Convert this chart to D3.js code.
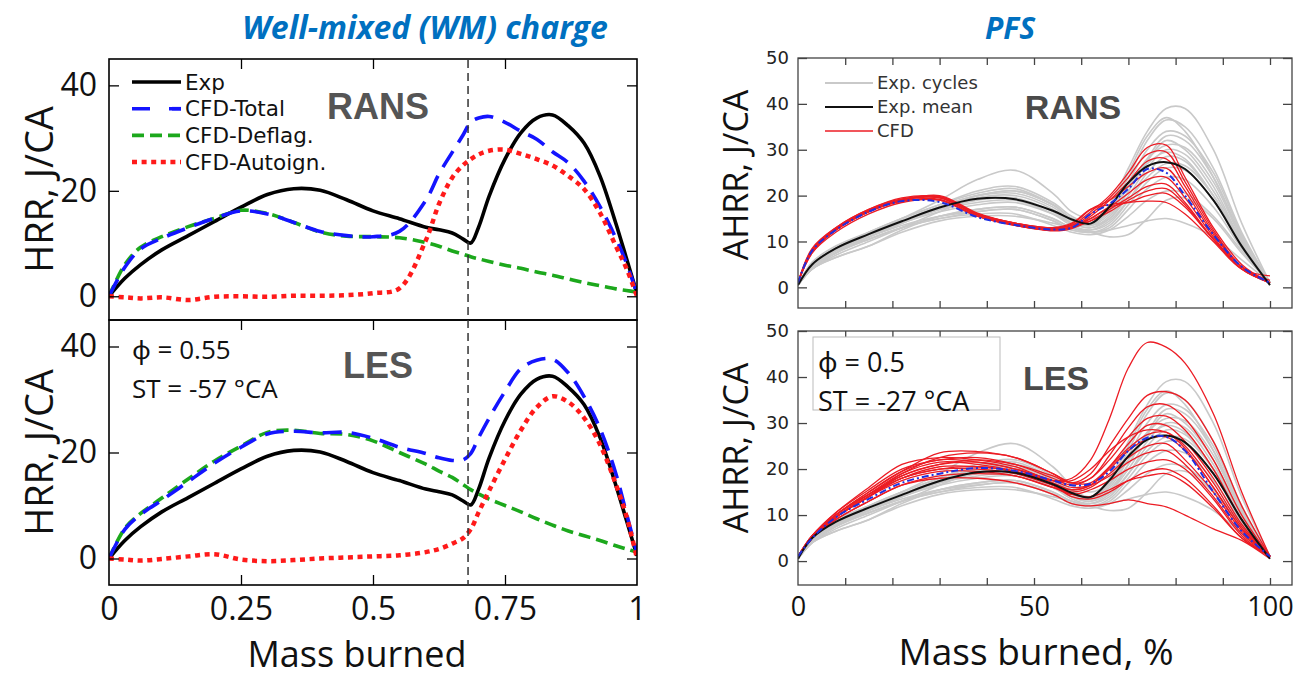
<!DOCTYPE html>
<html><head><meta charset="utf-8">
<script src="https://cdn.jsdelivr.net/npm/d3@7"></script>
<style>body{margin:0;background:#fff;} svg{display:block;}</style>
</head><body>
<svg id="c" width="1294" height="678"></svg>
<script>
// ================= DATA =================
// Left: Well-mixed (WM) charge, x = mass burned fraction
const wmX = [0, 0.03, 0.06, 0.1, 0.15, 0.2, 0.25, 0.3, 0.35, 0.4, 0.45, 0.5, 0.55, 0.6, 0.625, 0.65, 0.67, 0.685, 0.7, 0.72, 0.75, 0.78, 0.81, 0.84, 0.87, 0.9, 0.93, 0.96, 0.98, 1.0];
const wmExp        = [0, 3.4, 6, 8.8, 11.5, 14.2, 16.9, 19.3, 20.4, 20.1, 18.3, 16.2, 14.7, 13.1, 12.6, 12, 10.9, 10.1, 13.1, 19, 26, 31, 33.8, 34.4, 32.3, 29, 22.8, 13.8, 7.2, 0.5];
const ransTotal    = [0, 5.5, 9, 11, 13, 14.8, 16.2, 15.6, 14, 12.3, 11.5, 11.3, 12.3, 18.2, 23.2, 27.3, 30.5, 33, 33.8, 34.1, 33, 31.3, 29.8, 27.4, 25.3, 21.8, 17, 11, 6.3, 0.5];
const ransDeflag   = [0, 6, 9.3, 11.3, 13.2, 14.8, 16.3, 15.7, 14, 12.2, 11.4, 11.3, 11.1, 10.2, 9.5, 8.6, 8, 7.5, 7.1, 6.6, 5.9, 5.3, 4.6, 4, 3.3, 2.6, 2, 1.4, 1.1, 0.8];
const ransAutoign  = [0, -0.2, -0.4, -0.2, -0.7, -0.1, 0, -0.1, 0.1, 0.1, 0.2, 0.6, 1.5, 10.6, 17.5, 22.5, 24.8, 26, 26.9, 27.6, 27.8, 27, 26, 24.8, 22.8, 20.3, 15.8, 9.5, 5.3, 0];
const lesTotal     = [0, 5.5, 8.3, 11, 14.5, 18, 21, 23.5, 24, 23.7, 23.8, 22.7, 21, 19.8, 19, 18.5, 18.6, 19.8, 22.8, 26.5, 31.5, 35.8, 37.4, 37.6, 35, 30.5, 24.5, 16, 8.5, 1];
const lesDeflag    = [0, 5.7, 8.5, 11.4, 15, 18.4, 21.2, 23.8, 24.2, 23.6, 23.4, 22.2, 20, 17.8, 16.5, 15.3, 14, 13, 12.2, 11.2, 10, 8.8, 7.5, 6.3, 5.2, 4.3, 3.4, 2.4, 1.8, 1.2];
const lesAutoign   = [0, -0.2, -0.4, -0.1, 0.4, 0.8, -0.2, -0.5, -0.3, 0, 0.2, 0.4, 0.6, 1.2, 1.8, 2.8, 3.8, 5.5, 8.7, 12.8, 18.7, 24.2, 28.5, 30.6, 29.5, 26.5, 21.5, 14, 8, 0];
const wmOnset = 0.68;
const wmXTicks = [0, 0.25, 0.5, 0.75, 1];
const wmXTickLabels = ["0", "0.25", "0.5", "0.75", "1"];
const wmYTicks = [0, 20, 40];
const wmLegend = ["Exp", "CFD-Total", "CFD-Deflag.", "CFD-Autoign."];

// Right: PFS, x = mass burned %
const pfsX = [0, 3, 8, 15, 22, 30, 38, 46, 54, 58, 62, 66, 70, 74, 78, 82, 88, 94, 100];
const pfsExpCycles = [
  [0.5, 4.5, 8, 11.5, 15, 19, 23.5, 25.5, 20.5, 16.5, 15, 17, 22, 27, 29.5, 28, 20, 10, 1],
  [0.5, 4, 7.5, 11, 14, 17.5, 20, 21, 18, 15, 14, 18, 26, 34, 39, 39, 30, 14, 1],
  [0.5, 4.5, 8, 11, 14.5, 17.5, 20, 20.5, 17.5, 14.5, 13.5, 17, 24, 32, 36.5, 35, 26, 12, 1],
  [0.5, 5, 8.5, 12, 15, 18, 21, 22, 18.5, 15.5, 14, 17.5, 25, 33, 37, 34, 24, 11, 1],
  [0.5, 4, 7, 10, 13, 16.5, 19.5, 20, 17, 14, 13, 15, 21, 28, 33, 32, 24, 11, 1],
  [0.5, 5, 8.5, 11.5, 14, 17, 19, 19.5, 16.5, 14, 13, 15.5, 21, 27.5, 32, 30, 22, 10, 1],
  [0.5, 4.5, 8, 11, 14, 16.5, 18, 18.5, 16, 14, 13.5, 15, 20, 26, 30, 29, 21, 10, 1],
  [0.5, 5.5, 9, 12, 14.5, 17, 18.5, 19, 16, 13.5, 12.5, 14, 19, 25, 28.5, 27.5, 20, 9.5, 1],
  [0.5, 4, 7.5, 10.5, 13, 15.5, 17, 17.5, 15, 13, 12, 13.5, 18, 23, 26, 25.5, 19, 9, 1],
  [0.5, 5, 8.5, 11, 13.5, 15.5, 16.5, 17, 14.5, 12.5, 12, 13, 17, 21.5, 24, 23.5, 17.5, 8.5, 1],
  [0.5, 4.5, 7.5, 10.5, 13, 15, 16, 16, 13.5, 12, 11.5, 12.5, 15.5, 19, 21, 20.5, 15.5, 8, 1],
  [0.5, 4, 6.5, 9, 12.5, 15.5, 17, 17.5, 15, 13, 12, 11, 11.5, 15, 19, 19.5, 15, 7.5, 1],
  [0.5, 5, 8, 10.5, 13, 15, 16.5, 17, 14.5, 12.5, 12, 12.5, 13.5, 14.5, 15, 14, 11, 6, 1],
  [0.5, 4.5, 8, 11.5, 14.5, 17.5, 20, 21, 18, 15, 14, 16.5, 23, 30, 34, 33, 25, 11.5, 1],
  [0.5, 5, 8.5, 12, 15, 18, 20.5, 21.5, 18, 15, 13.5, 16, 22, 28, 31, 30.5, 23, 10.5, 1],
  [0.5, 4, 6.5, 9, 12, 14.5, 15.5, 15.5, 14, 13, 12.5, 14.5, 19, 24, 27, 26.5, 20, 9.5, 1]
];
const pfsExpMean = [0.5, 5, 8.5, 11.6, 14.4, 17.4, 19.3, 19.2, 16.7, 14.8, 13.9, 17.6, 22.8, 26.4, 27.3, 25.8, 19, 9, 0.5];
const ransCfdRuns = [
  [1, 8, 12.5, 16.5, 19, 19.8, 16, 14, 13, 13.5, 16.5, 20, 25, 30.5, 31, 24, 13, 5, 1],
  [1, 8.5, 13, 17, 19.3, 19.5, 15.8, 13.8, 12.7, 13.2, 16, 19.5, 24, 29, 29.5, 23, 12.5, 4.5, 1.5],
  [1, 7.5, 12.5, 16.5, 18.8, 19.2, 15.5, 13.5, 12.5, 13, 15.5, 19, 23, 27.5, 28, 22, 12, 4.5, 1],
  [1, 8, 12.8, 16.8, 19, 20, 16.2, 14, 12.8, 13.8, 17, 19, 22, 25, 26, 21, 11.5, 4.5, 1],
  [1, 8, 12.5, 16.5, 18.8, 19, 15.5, 13.5, 12.3, 12.8, 15, 17.5, 20.5, 23.5, 24, 19.5, 11, 4, 1],
  [1, 7.5, 12, 16, 18.5, 19, 15.5, 13.5, 12.5, 13, 14.5, 17, 19.5, 22, 22.5, 18.5, 10.5, 4, 1],
  [1, 8, 12.5, 16.5, 19, 19.5, 15.8, 13.6, 12.5, 13.2, 14.5, 16.5, 19, 21, 21.5, 18, 10.5, 4, 1],
  [1, 8, 12.8, 16.8, 19.2, 19.8, 16, 13.8, 12.8, 13.5, 15, 17.5, 18.5, 20, 20.5, 17.5, 10.5, 4.5, 1],
  [1, 8.3, 13, 17, 19.5, 19.7, 16, 14, 13, 14, 17, 18, 18.5, 18.8, 18.5, 16, 10, 4, 2.5]
];
const ransCfdMean = [1, 8, 12.5, 16.5, 18.8, 18.6, 15.3, 13.6, 12.6, 13, 16, 18.2, 21.5, 25.8, 25, 20, 11.5, 4.5, 1];
const lesCfdRuns = [
  [1, 5, 9.5, 14, 18, 20, 20.5, 19.5, 17.5, 18, 22, 31, 42, 47.5, 46.5, 43, 32, 15, 1],
  [1, 5.5, 10, 14.5, 18.5, 21, 22, 21, 18.5, 17, 19, 25, 31, 36, 36.8, 35, 26, 12, 1],
  [1, 5, 9.5, 14, 19, 22.5, 23.5, 22.5, 19, 17, 18, 23, 29, 33.5, 34, 31, 22, 10, 1],
  [1, 5.5, 10.5, 15.5, 20, 22, 22.5, 21, 18, 16.5, 18, 22, 27, 31, 31.5, 28.5, 20, 9, 1],
  [1, 5, 9.5, 14, 18.5, 21, 21.5, 20, 17, 15.5, 16.5, 20.5, 25.5, 29.5, 29.5, 26, 18, 8, 1],
  [1, 5, 10, 15, 19.5, 23.5, 23.8, 22.5, 19, 17, 17, 20.5, 24.5, 27.5, 28, 25, 17, 7.5, 1],
  [1, 5.5, 10, 14.5, 18, 20, 20, 19, 16.5, 15.5, 16.5, 20, 24, 26.5, 27, 24, 16, 7, 1],
  [1, 5, 9.5, 14, 17.5, 19.5, 19.5, 18.5, 16, 15, 16, 19, 22.5, 25, 25.5, 22, 15, 6.5, 1],
  [1, 5, 10, 15, 19.5, 22, 21.5, 20, 17.5, 16, 16.5, 18.5, 21.5, 23.5, 24, 21, 14, 6, 1],
  [1, 5, 9, 13, 16.5, 18.5, 19, 18.5, 16, 14.5, 15.5, 17.5, 20, 21.5, 22, 20, 13.5, 5.5, 1],
  [1, 5, 9.5, 14, 18, 20.5, 20.5, 19.5, 16.5, 14, 13.5, 15, 17.5, 19.5, 20, 18, 12, 5, 1],
  [1, 5, 9.5, 14.5, 19, 21.5, 21, 19.5, 16.5, 14.5, 14, 15.5, 17.5, 18.5, 19, 17, 11.5, 5, 1],
  [1, 5, 9, 13, 16.5, 18, 18, 17, 14.5, 12.5, 12, 12.5, 13.3, 12.5, 11.8, 10, 7, 4.5, 0.5],
  [1, 5.5, 10.5, 16, 21, 22.5, 22, 20.5, 17.5, 17.5, 20, 24, 27, 28.5, 28, 24.5, 16, 7, 1]
];
const lesCfdMean = [1, 5, 9.5, 13.5, 17, 19, 20.2, 19.6, 17.5, 16.5, 16.8, 19.5, 24, 26.8, 27, 24, 15, 6.5, 1];
const pfsXTicks = [0, 10, 20, 30, 40, 50, 60, 70, 80, 90, 100];
const pfsXLabels = [0, 50, 100];
const pfsYTicks = [0, 10, 20, 30, 40, 50];
const pfsLegend = ["Exp. cycles", "Exp. mean", "CFD"];

// ================= DRAWING =================
const svg = d3.select("#c");
const OPEN = "'Open Sans', 'Noto Sans', sans-serif";
const DEJA = "'DejaVu Sans', sans-serif";
const ARIAL = "'Liberation Sans', Arial, sans-serif";
const defs = svg.append("defs");

function clip(id, x0, y0, x1, y1) {
  defs.append("clipPath").attr("id", id).append("rect")
    .attr("x", x0).attr("y", y0).attr("width", x1 - x0).attr("height", y1 - y0);
  return "url(#" + id + ")";
}
function styleAxis(g, color, font, size) {
  g.select(".domain").remove();
  g.selectAll(".tick line").attr("stroke", color).attr("stroke-width", 1.3);
  g.selectAll(".tick text").attr("fill", "#111").style("font-family", font).style("font-size", size + "px");
}

// ---------- Left (WM) ----------
const xW = d3.scaleLinear().domain([0, 1]).range([109, 637]);
const wmPanels = [
  { name: "RANS", top: 59, bot: 320, dom: [-4.5, 45], total: ransTotal, deflag: ransDeflag, auto: ransAutoign },
  { name: "LES", top: 320, bot: 585, dom: [-5, 45], total: lesTotal, deflag: lesDeflag, auto: lesAutoign, bottomAxis: true }
];
const wmStyles = [
  { color: "#000", width: 3.6, dash: null },
  { color: "#1414ff", width: 3.6, dash: "19,10" },
  { color: "#1ca81c", width: 3.6, dash: "12,6" },
  { color: "#ff1a1a", width: 4.5, dash: "5,4.6" }
];

wmPanels.forEach((p, pi) => {
  const y = d3.scaleLinear().domain(p.dom).range([p.bot, p.top]);
  const g = svg.append("g");
  const cp = clip("cw" + pi, 109, p.top, 637, p.bot);
  const line = d3.line().x((d, i) => xW(wmX[i])).y(d => y(d)).curve(d3.curveCatmullRom.alpha(0.5));
  const series = [wmExp, p.total, p.deflag, p.auto];
  const lg = g.append("g").attr("clip-path", cp);
  [0, 2, 1, 3].forEach(k => {
    const s = wmStyles[k];
    lg.append("path").attr("d", line(series[k])).attr("fill", "none")
      .attr("stroke", s.color).attr("stroke-width", s.width)
      .attr("stroke-dasharray", s.dash).attr("stroke-linejoin", "round");
  });
  const ay = g.append("g").attr("transform", "translate(109,0)")
    .call(d3.axisLeft(y).tickValues(wmYTicks).tickSize(-10).tickPadding(12));
  styleAxis(ay, "#000", OPEN, 32);
  const ayr = g.append("g").attr("transform", "translate(637,0)")
    .call(d3.axisRight(y).tickValues(wmYTicks).tickSize(-10).tickFormat(""));
  styleAxis(ayr, "#000", OPEN, 32);
  const axt = g.append("g").attr("transform", `translate(0,${p.top})`)
    .call(d3.axisTop(xW).tickValues(wmXTicks.slice(1, -1)).tickSize(-10).tickFormat(""));
  styleAxis(axt, "#000", OPEN, 32);
  if (p.bottomAxis) {
    const axb = g.append("g").attr("transform", `translate(0,${p.bot})`)
      .call(d3.axisBottom(xW).tickValues(wmXTicks).tickSize(-10).tickPadding(12)
        .tickFormat((d, i) => wmXTickLabels[i]));
    styleAxis(axb, "#000", OPEN, 32);
    axb.selectAll(".tick line").filter((d, i) => i === 0 || i === wmXTicks.length - 1).remove();
  }
  g.append("rect").attr("x", 109).attr("y", p.top).attr("width", 528).attr("height", p.bot - p.top)
    .attr("fill", "none").attr("stroke", "#000").attr("stroke-width", 1.6);
  g.append("text").attr("transform", `translate(53,${(p.top + p.bot) / 2}) rotate(-90)`)
    .attr("text-anchor", "middle").style("font-family", OPEN).style("font-size", "38px").attr("fill", "#111")
    .text("HRR, J/CA");
  g.append("text").attr("x", 378).attr("y", pi === 0 ? 119 : 378).attr("text-anchor", "middle")
    .style("font-family", ARIAL).style("font-weight", "bold").style("font-size", "36px").attr("fill", "#555")
    .text(p.name);
});
svg.append("line").attr("x1", xW(wmOnset)).attr("x2", xW(wmOnset)).attr("y1", 60).attr("y2", 584)
  .attr("stroke", "#333").attr("stroke-width", 1.5).attr("stroke-dasharray", "8,5");
wmLegend.forEach((t, i) => {
  const yy = 82 + i * 26.7;
  const s = wmStyles[i];
  svg.append("line").attr("x1", 132).attr("x2", 181).attr("y1", yy).attr("y2", yy)
    .attr("stroke", s.color).attr("stroke-width", s.width)
    .attr("stroke-dasharray", i === 1 ? "18,19" : s.dash);
  if (i === 1) svg.append("line").attr("x1", 172).attr("x2", 181).attr("y1", yy).attr("y2", yy)
    .attr("stroke", s.color).attr("stroke-width", s.width);
  svg.append("text").attr("x", 185).attr("y", yy).attr("dy", "0.36em")
    .style("font-family", DEJA).style("font-size", "21.5px").attr("fill", "#111").text(t);
});
svg.append("text").attr("x", 132).attr("y", 359).style("font-family", OPEN).style("font-size", "26px").attr("fill", "#111").text("ϕ = 0.55");
svg.append("text").attr("x", 132).attr("y", 398).style("font-family", OPEN).style("font-size", "26px").attr("fill", "#111").text("ST = -57 °CA");
svg.append("text").attr("x", 357).attr("y", 667).attr("text-anchor", "middle")
  .style("font-family", OPEN).style("font-size", "36px").attr("fill", "#111").text("Mass burned");
svg.append("text").attr("x", 425).attr("y", 39).attr("text-anchor", "middle")
  .style("font-family", OPEN).style("font-weight", "bold").style("font-style", "italic").style("font-size", "32px")
  .attr("fill", "#0070C0").text("Well-mixed (WM) charge");

// ---------- Right (PFS) ----------
const xP = d3.scaleLinear().domain([0, 100]).range([798, 1270]);
const pfsPanels = [
  { name: "RANS", top: 58, bot: 308, dom: [-4.5, 50], runs: ransCfdRuns, mean: ransCfdMean },
  { name: "LES", top: 331, bot: 585, dom: [-5.2, 50], runs: lesCfdRuns, mean: lesCfdMean, bottomAxis: true }
];
pfsPanels.forEach((p, pi) => {
  const y = d3.scaleLinear().domain(p.dom).range([p.bot, p.top]);
  const g = svg.append("g");
  const cp = clip("cp" + pi, 798, p.top, 1292, p.bot);
  const line = d3.line().x((d, i) => xP(pfsX[i])).y(d => y(d)).curve(d3.curveCatmullRom.alpha(0.5));
  const lg = g.append("g").attr("clip-path", cp);
  pfsExpCycles.forEach(s => lg.append("path").attr("d", line(s)).attr("fill", "none")
    .attr("stroke", "#c9c9c9").attr("stroke-width", 1.6));
  p.runs.forEach(s => lg.append("path").attr("d", line(s)).attr("fill", "none")
    .attr("stroke", "#ec1c24").attr("stroke-width", 1.3));
  lg.append("path").attr("d", line(pfsExpMean)).attr("fill", "none").attr("stroke", "#111").attr("stroke-width", 2);
  lg.append("path").attr("d", line(p.mean)).attr("fill", "none").attr("stroke", "#1f2fe0")
    .attr("stroke-width", 2).attr("stroke-dasharray", "7,3,2,3");
  const ay = g.append("g").attr("transform", "translate(798,0)")
    .call(d3.axisLeft(y).tickValues(pfsYTicks).tickSize(-9).tickPadding(9));
  styleAxis(ay, "#444", DEJA, 18);
  ay.selectAll(".tick text").attr("fill", "#222");
  const ayr = g.append("g").attr("transform", "translate(1292,0)")
    .call(d3.axisRight(y).tickValues(pfsYTicks).tickSize(-9).tickFormat(""));
  styleAxis(ayr, "#444", DEJA, 18);
  const axt = g.append("g").attr("transform", `translate(0,${p.top})`)
    .call(d3.axisTop(xP).tickValues(pfsXTicks.slice(1)).tickSize(-7).tickFormat(""));
  styleAxis(axt, "#444", DEJA, 18);
  const axb = g.append("g").attr("transform", `translate(0,${p.bot})`)
    .call(d3.axisBottom(xP).tickValues(pfsXTicks.slice(1)).tickSize(-7).tickFormat(""));
  styleAxis(axb, "#444", DEJA, 18);
  if (p.bottomAxis) {
    const axl = g.append("g").attr("transform", `translate(0,${p.bot})`)
      .call(d3.axisBottom(xP).tickValues(pfsXLabels).tickSize(0).tickPadding(12));
    styleAxis(axl, "#444", OPEN, 27);
  }
  g.append("rect").attr("x", 798).attr("y", p.top).attr("width", 494).attr("height", p.bot - p.top)
    .attr("fill", "none").attr("stroke", "#444").attr("stroke-width", 1.3);
  g.append("text").attr("transform", `translate(748,${pi === 0 ? 175 : 448}) rotate(-90)`)
    .attr("text-anchor", "middle").style("font-family", OPEN).style("font-size", "34px").attr("fill", "#111")
    .text("AHRR, J/CA");
  g.append("text").attr("x", pi === 0 ? 1073 : 1056).attr("y", pi === 0 ? 119 : 390).attr("text-anchor", "middle")
    .style("font-family", ARIAL).style("font-weight", "bold").style("font-size", "34px").attr("fill", "#4a4a4a")
    .text(p.name);
});
const pfsLegStyles = [{ c: "#c9c9c9", w: 2.2 }, { c: "#111", w: 2.2 }, { c: "#ec1c24", w: 1.4 }];
pfsLegend.forEach((t, i) => {
  const yy = 83 + i * 24;
  svg.append("line").attr("x1", 825).attr("x2", 873).attr("y1", yy).attr("y2", yy)
    .attr("stroke", pfsLegStyles[i].c).attr("stroke-width", pfsLegStyles[i].w);
  svg.append("text").attr("x", 877).attr("y", yy).attr("dy", "0.36em")
    .style("font-family", DEJA).style("font-size", "18px").attr("fill", "#333").text(t);
});
svg.append("rect").attr("x", 813).attr("y", 337).attr("width", 187).attr("height", 73)
  .attr("fill", "#fff").attr("stroke", "#bbb").attr("stroke-width", 1);
svg.append("text").attr("x", 818).attr("y", 372).style("font-family", OPEN).style("font-size", "27px").attr("fill", "#111").text("ϕ = 0.5");
svg.append("text").attr("x", 818).attr("y", 411).style("font-family", OPEN).style("font-size", "27px").attr("fill", "#111").text("ST = -27 °CA");
svg.append("text").attr("x", 1036).attr("y", 665).attr("text-anchor", "middle")
  .style("font-family", OPEN).style("font-size", "37px").attr("fill", "#111").text("Mass burned, %");
svg.append("text").attr("x", 1010).attr("y", 39).attr("text-anchor", "middle")
  .style("font-family", OPEN).style("font-weight", "bold").style("font-style", "italic").style("font-size", "30px")
  .attr("fill", "#0070C0").text("PFS");
</script>
</body></html>
